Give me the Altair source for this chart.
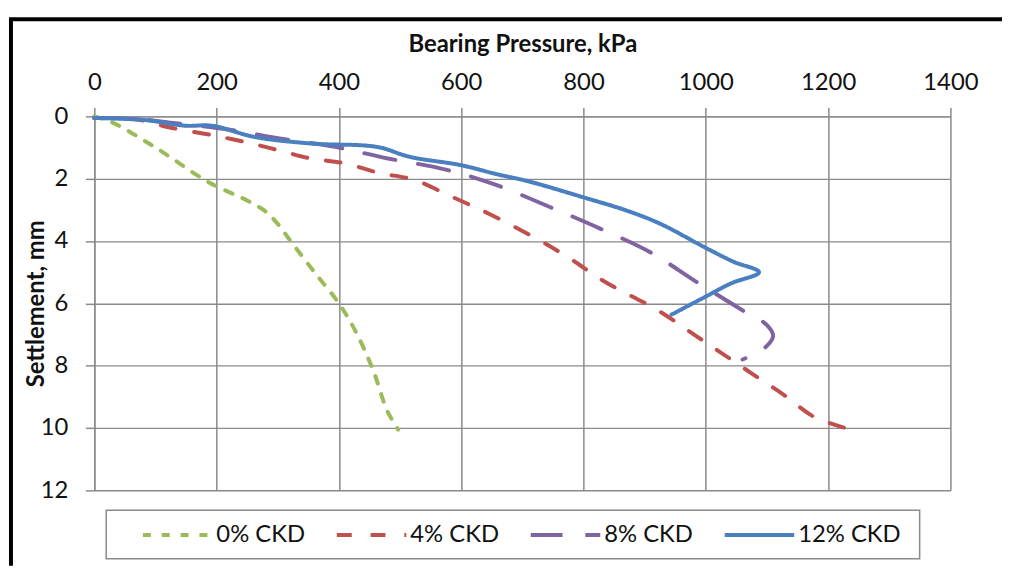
import altair as alt
import pandas as pd

series = ["0% CKD", "4% CKD", "8% CKD", "12% CKD"]
colors = ["#9BBB59", "#C0504D", "#8064A2", "#4A7FC0"]
dashes = [[8, 11], [15, 19], [32, 23], [1, 0]]

x_ticks = [0, 200, 400, 600, 800, 1000, 1200, 1400]
y_ticks = [0, 2, 4, 6, 8, 10, 12]

# 0% CKD
p0_x = [0, 30, 100, 186, 250, 280, 300, 321, 360, 400, 430, 457, 479, 497]
p0_y = [0, 0.2, 1.0, 2.1, 2.7, 3.05, 3.45, 4.0, 5.0, 6.0, 7.0, 8.2, 9.45, 10.05]
# 4% CKD
p4_x = [0, 70, 122, 192, 246, 300, 354, 408, 467, 522, 587, 646, 730, 781, 830,
        922, 982, 1030, 1079, 1128, 1176, 1228]
p4_y = [0.05, 0.1, 0.35, 0.6, 0.82, 1.08, 1.35, 1.5, 1.82, 2.03, 2.6, 3.13, 4.0,
        4.6, 5.25, 6.23, 7.02, 7.65, 8.3, 8.94, 9.63, 10.0]
# 8% CKD
p8_x = [0, 70, 133, 219, 300, 394, 480, 573, 657, 744, 827, 910, 984, 1063, 1100,
        1110, 1095, 1060]
p8_y = [0.05, 0.08, 0.22, 0.42, 0.7, 0.98, 1.35, 1.7, 2.2, 2.9, 3.6, 4.37, 5.3,
        6.26, 6.7, 7.05, 7.45, 7.8]
# 12% CKD
p12_x = [0, 84, 149, 192, 262, 354, 462, 516, 598, 657, 711, 800, 873, 927, 998,
         1046, 1087, 1041, 1000, 944]
p12_y = [0.05, 0.12, 0.3, 0.3, 0.66, 0.87, 0.98, 1.3, 1.56, 1.85, 2.09, 2.6, 3.04,
         3.46, 4.2, 4.67, 5.0, 5.36, 5.78, 6.36]

rows = []
for name, xs, ys in zip(series, [p0_x, p4_x, p8_x, p12_x], [p0_y, p4_y, p8_y, p12_y]):
    for i, (xv, yv) in enumerate(zip(xs, ys)):
        rows.append({"series": name, "pressure": xv, "settlement": yv, "idx": i})
df = pd.DataFrame(rows)

W, H = 863, 377
FONT = "Lato"
FS = 24

legend = alt.Legend(
    title=None,
    orient="none", legendX=47, legendY=410,
    direction="horizontal", columns=4, gridAlign="all", columnPadding=15.5,
    symbolType="stroke", symbolSize=4900, symbolStrokeWidth=4, clipHeight=24,
    labelFont=FONT, labelFontSize=FS, labelColor="#111111", labelOffset=2,
    padding=0,
)

lines = alt.Chart(df).mark_line(
    strokeWidth=4, interpolate="catmull-rom", strokeCap="round", strokeJoin="round"
).encode(
    x=alt.X("pressure:Q", scale=alt.Scale(domain=[0, 1400], nice=False),
            axis=alt.Axis(orient="top", values=x_ticks, format="d",
                          title="Bearing Pressure, kPa",
                          labelBaseline="alphabetic", labelPadding=17.7,
                          titleX=431.5, titleY=-65.7, titleAlign="center",
                          titleBaseline="alphabetic")),
    y=alt.Y("settlement:Q", scale=alt.Scale(domain=[0, 12], reverse=True, nice=False),
            axis=alt.Axis(values=y_ticks, format="d", title="Settlement, mm",
                          labelPadding=17.7, labelBaseline="middle",
                          titleAngle=270, titleX=-51.7, titleY=188.5,
                          titleAlign="center", titleBaseline="alphabetic")),
    color=alt.Color("series:N", scale=alt.Scale(domain=series, range=colors), legend=legend),
    strokeDash=alt.StrokeDash("series:N", scale=alt.Scale(domain=series, range=dashes),
                              legend=legend),
    order="idx:Q",
)

deco = pd.DataFrame({"k": [0]})
border_left = alt.Chart(deco).mark_rule(color="black", strokeWidth=4).encode(
    x=alt.value(-84), y=alt.value(-98), y2=alt.value(453))
border_top = alt.Chart(deco).mark_rule(color="black", strokeWidth=4).encode(
    x=alt.value(-86), x2=alt.value(915), y=alt.value(-98))
legend_box = alt.Chart(deco).mark_rect(
    fillOpacity=0, stroke="#8a8a8a", strokeWidth=1.5
).encode(x=alt.value(12), x2=alt.value(832), y=alt.value(397), y2=alt.value(446))

chart = alt.layer(legend_box, lines, border_left, border_top).properties(
    width=W, height=H,
    padding={"left": 87, "top": 107, "right": 52, "bottom": 76},
    autosize=alt.AutoSizeParams(type="none"),
    background="white",
).configure_view(stroke=None).configure_axis(
    grid=True, gridColor="#8a8a8a", gridWidth=1.5,
    domainColor="#8a8a8a", domainWidth=1.5,
    tickColor="#8a8a8a", tickWidth=1.5, tickSize=9,
    labelFont=FONT, labelFontSize=FS, labelColor="#111111",
    labelFlush=False, labelOverlap=False,
    titleFont=FONT, titleFontSize=FS, titleFontWeight="bold", titleColor="#111111",
)

chart.save("out.html", embed_options={"renderer": "svg", "actions": False})
